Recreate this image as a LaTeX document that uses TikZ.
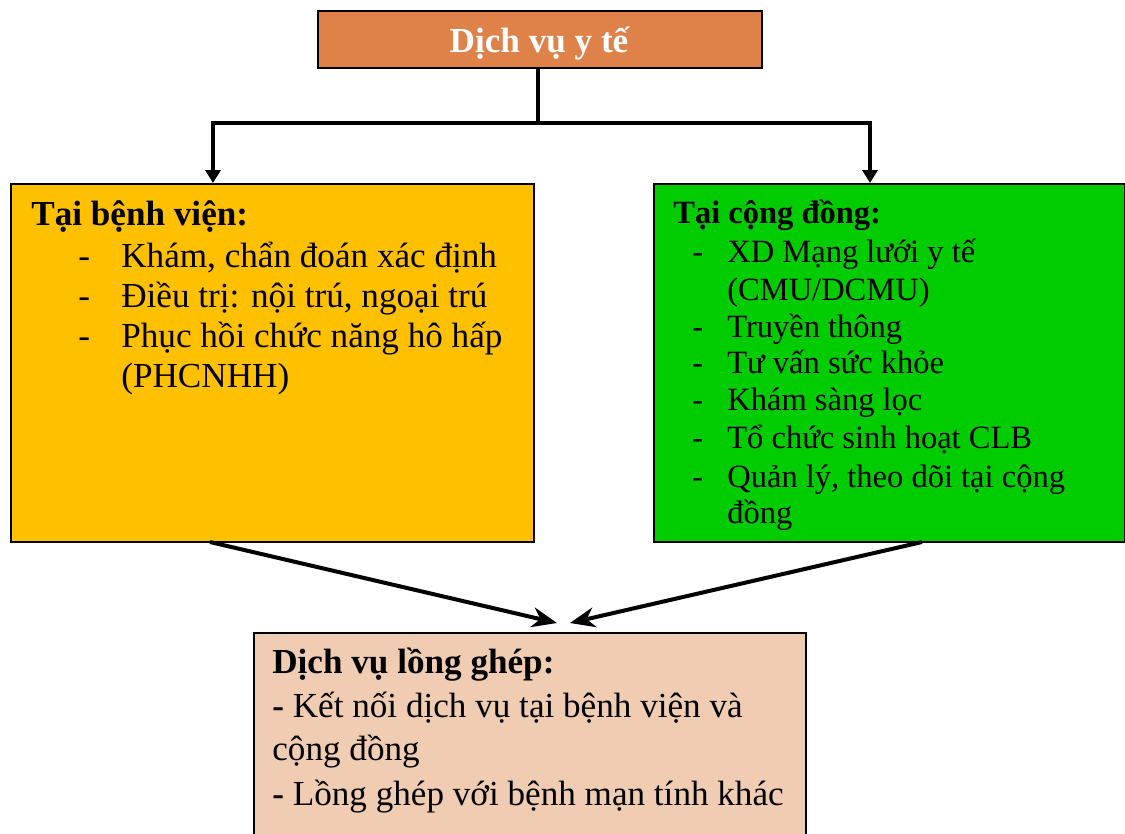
\documentclass[tikz,border=0pt]{standalone}
\usepackage{fontspec}
\setmainfont{Liberation Serif}
\usetikzlibrary{arrows.meta}
\definecolor{topfill}{RGB}{223,130,74}
\definecolor{hospfill}{RGB}{255,192,0}
\definecolor{commfill}{RGB}{0,204,0}
\definecolor{mixfill}{RGB}{240,204,178}
\tikzset{
  box/.style={draw=black, line width=0.04cm, anchor=north west, inner sep=0pt},
  txt/.style={anchor=base west, inner sep=0pt, font=\fontsize{20}{24}\selectfont},
  smalltxt/.style={txt, font=\fontsize{18.5}{22}\selectfont},
  conn/.style={draw=black, line width=0.08cm},
  droparrow/.style={conn, -{Triangle[length=0.26cm, width=0.3cm]}},
  mergearrow/.style={conn, -{Stealth[length=0.5cm, width=0.4cm, inset=0.16cm]}}
}
\begin{document}
\begin{tikzpicture}[x=0.02cm, y=-0.02cm]
\useasboundingbox (0,0) rectangle (1125,833);
\clip (0,0) rectangle (1125,833);

% boxes
\node[box, fill=topfill, minimum width=8.88cm, minimum height=1.14cm] (top) at (317,10) {};
\node[box, fill=hospfill, minimum width=10.46cm, minimum height=7.16cm] (hosp) at (10,183) {};
\node[box, fill=commfill, minimum width=9.42cm, minimum height=7.16cm] (comm) at (653,183) {};
\node[box, fill=mixfill, minimum width=11.04cm, minimum height=4.6cm] (mix) at (253,632) {};

% title
\node[txt, anchor=base, text=white, font=\fontsize{20}{24}\selectfont\bfseries] (title) at (539,52) {Dịch vụ y tế};

% branching connectors
\coordinate (hub) at (538,123);
\coordinate (hospin) at (213,183);
\coordinate (commin) at (870,183);
\draw[conn] (top.south -| hub) -- (hub);
\draw[droparrow] (hub) -| (hospin);
\draw[droparrow] (hub) -| (commin);

% merging connectors
\coordinate (hospout) at (210,542);
\coordinate (commout) at (922,542);
\coordinate (mixinL) at (557,623);
\coordinate (mixinR) at (570,623);
\draw[mergearrow] (hospout) -- (mixinL);
\draw[mergearrow] (commout) -- (mixinR);

% hospital box text
\node[txt, font=\fontsize{20}{24}\selectfont\bfseries] (h0) at (31,225) {Tại bệnh viện:};
\node[txt] (h1d) at (78,267) {-};
\node[txt] (h1) at (121,267) {Khám, chẩn đoán xác định};
\node[txt] (h2d) at (78,307) {-};
\node[txt] (h2) at (121,307) {Điều trị: nội trú, ngoại trú};
\node[txt] (h3d) at (78,347) {-};
\node[txt] (h3) at (121,347) {Phục hồi chức năng hô hấp};
\node[txt] (h4) at (121,387) {(PHCNHH)};

% community box text
\node[smalltxt, font=\fontsize{18.5}{22}\selectfont\bfseries] (c0) at (673,223) {Tại cộng đồng:};
\node[smalltxt] (c1d) at (692,262) {-};
\node[smalltxt] (c1) at (727,262) {XD Mạng lưới y tế};
\node[smalltxt] (c2) at (727,300) {(CMU/DCMU)};
\node[smalltxt] (c3d) at (692,337) {-};
\node[smalltxt] (c3) at (727,337) {Truyền thông};
\node[smalltxt] (c4d) at (692,373) {-};
\node[smalltxt] (c4) at (727,373) {Tư vấn sức khỏe};
\node[smalltxt] (c5d) at (692,410) {-};
\node[smalltxt] (c5) at (727,410) {Khám sàng lọc};
\node[smalltxt] (c6d) at (692,448) {-};
\node[smalltxt] (c6) at (727,448) {Tổ chức sinh hoạt CLB};
\node[smalltxt] (c7d) at (692,487) {-};
\node[smalltxt] (c7) at (727,487) {Quản lý, theo dõi tại cộng};
\node[smalltxt] (c8) at (727,523) {đồng};

% integrated services text
\node[txt, font=\fontsize{20}{24}\selectfont\bfseries] (m0) at (272,673) {Dịch vụ lồng ghép:};
\node[txt] (m1) at (272,717) {\textbf{-} Kết nối dịch vụ tại bệnh viện và};
\node[txt] (m2) at (272,760) {cộng đồng};
\node[txt] (m3) at (272,805) {\textbf{-} Lồng ghép với bệnh mạn tính khác};
\end{tikzpicture}
\end{document}
